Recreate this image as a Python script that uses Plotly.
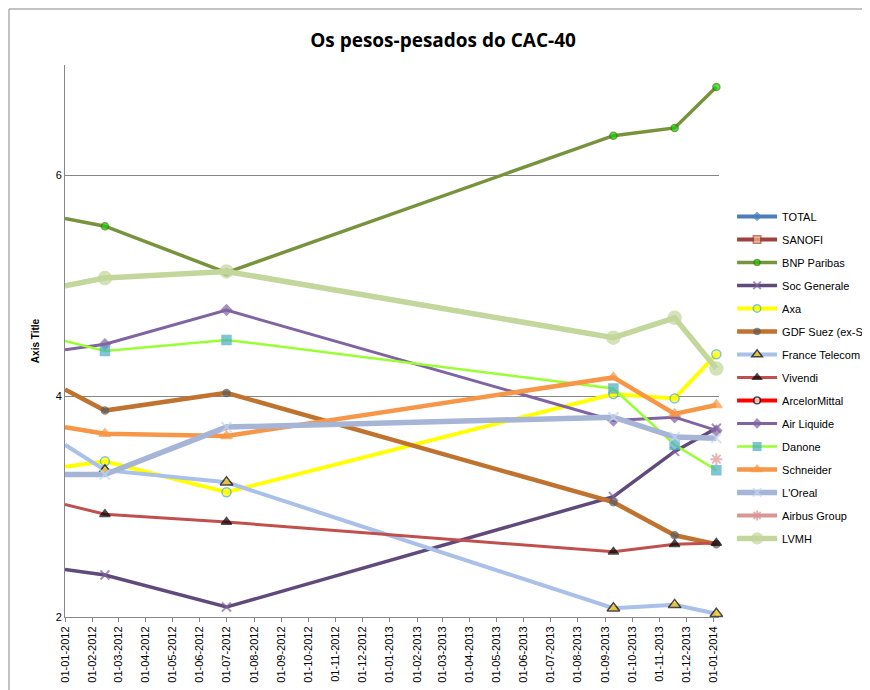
import plotly.graph_objects as go

dates = ["2012-01-01", "2012-02-15", "2012-07-01", "2013-09-10", "2013-11-18", "2014-01-04"]
bnp = [5.61, 5.54, 5.12, 6.36, 6.43, 6.80]
lvmh = [5.00, 5.07, 5.13, 4.53, 4.71, 4.25]
airliquide = [4.42, 4.47, 4.78, 3.78, 3.81, 3.69]
danone = [4.50, 4.41, 4.51, 4.07, 3.56, 3.33]
gdf = [4.06, 3.87, 4.03, 3.04, 2.74, 2.66]
schneider = [3.72, 3.66, 3.64, 4.17, 3.84, 3.92]
axa = [3.36, 3.41, 3.13, 4.02, 3.98, 4.38]
loreal = [3.29, 3.29, 3.72, 3.81, 3.63, 3.62]
ftel = [3.56, 3.33, 3.22, 2.08, 2.11, 2.03]
vivendi = [3.02, 2.93, 2.86, 2.59, 2.66, 2.67]
socgen = [2.43, 2.38, 2.09, 3.09, 3.50, 3.71]
airbus = [None, None, None, None, None, 3.43]

# name, values, line color, width, marker symbol, marker color, marker line color, size
series = [
    ("TOTAL", None, "#4A7EBB", 4, "diamond", "#4A7EBB", "#4A7EBB", 7),
    ("SANOFI", None, "#A0413E", 4, "square", "#F9BF8F", "#A0413E", 9),
    ("BNP Paribas", bnp, "#77933C", 3.5, "circle", "#00E000", "#3D7A00", 7),
    ("Soc Generale", socgen, "#604A7B", 3.5, "x-thin", "#604A7B", "#8064A2", 9),
    ("Axa", axa, "#FFFF00", 4, "circle", "#FFFF00", "#4BACC6", 9),
    ("GDF Suez (ex-Suez)", gdf, "#C0722F", 4.5, "circle", "#5A5A5A", "#5A5A5A", 7),
    ("France Telecom", ftel, "#A9C0E8", 4, "triangle-up", "#FFC000", "#000000", 11),
    ("Vivendi", vivendi, "#C0504D", 3, "triangle-up", "#000000", "#000000", 9),
    ("ArcelorMittal", None, "#FF0000", 4, "circle", "#FFFFFF", "#000000", 8),
    ("Air Liquide", airliquide, "#8064A2", 3, "diamond", "#8064A2", "#8064A2", 8),
    ("Danone", danone, "#99FF33", 2.5, "square", "#4BACC6", "#4BACC6", 9),
    ("Schneider", schneider, "#F79646", 4.5, "triangle-up", "#F79646", "#F79646", 10),
    ("L'Oreal", loreal, "#A6B5D6", 5.5, "x-thin", "#A6B5D6", "#C6D5F0", 10),
    ("Airbus Group", airbus, "#D99694", 4, "asterisk", "#D99694", "#D99694", 10),
    ("LVMH", lvmh, "#C3D69B", 5.5, "circle", "#C3D69B", "#C3D69B", 13),
]

fig = go.Figure()
for name, vals, lc, lw, sym, mc, mlc, ms in series:
    y = vals if vals is not None else [None] * len(dates)
    sizes = [0] + [ms] * (len(dates) - 1)
    fig.add_trace(go.Scatter(
        x=dates, y=y, name=name, mode="lines+markers", legendgroup=name,
        line=dict(color=lc, width=lw),
        marker=dict(symbol=sym, color=mc, size=sizes, line=dict(color=mlc, width=1.5 if "thin" not in sym and sym != "asterisk" else 2)),
        cliponaxis=False,
    ))

fig.update_layout(
    width=870, height=690,
    paper_bgcolor="white", plot_bgcolor="white",
    margin=dict(l=57, r=159, t=57, b=81, autoexpand=False),
    title=dict(text="<b>Os pesos-pesados do CAC-40</b>", x=0.5, y=0.963, xanchor="center",
               font=dict(family="Open Sans", size=19, color="black")),
    font=dict(family="Liberation Sans", size=11, color="black"),
    legend=dict(x=1.02, xanchor="left", y=0.752, yanchor="top", tracegroupgap=4,
                font=dict(size=11), itemwidth=40, bgcolor="rgba(0,0,0,0)"),
    showlegend=True,
)
fig.update_xaxes(type="date", range=["2012-01-01", "2014-01-07"], dtick="M1",
                 tick0="2012-01-01", tickformat="%d-%m-%Y", tickangle=-90,
                 showgrid=False, showline=True, linecolor="#868686", ticks="outside",
                 ticklen=4, tickcolor="#868686", tickfont=dict(size=11))
fig.update_yaxes(range=[2, 7], tickvals=[2, 4, 6], showgrid=True, gridcolor="#868686",
                 showline=True, linecolor="#868686", zeroline=False,
                 title=dict(text="<b>Axis Title</b>", font=dict(size=10), standoff=14),
                 tickfont=dict(size=11))
fig.add_shape(type="rect", xref="paper", yref="paper", x0=-56/654, x1=1+158/654,
              y0=-80/552, y1=1+56/552, line=dict(color="#868686", width=1))
fig.write_html("out.html")
